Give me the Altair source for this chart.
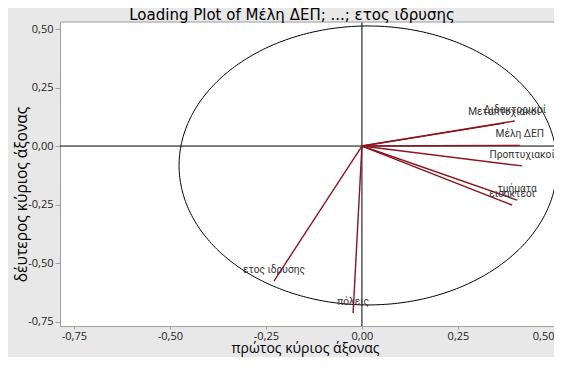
import altair as alt
import pandas as pd
import numpy as np

# Loadings
variables = ["Διδακτορικοί", "Μεταπτυχιακοί", "Μέλη ΔΕΠ", "Προπτυχιακοί",
             "τμήματα", "εισακτέοι", "ετος ιδρυσης", "πόλεις"]
pc1 = [0.398, 0.370, 0.411, 0.417, 0.404, 0.391, -0.229, -0.023]
pc2 = [0.107, 0.098, 0.003, -0.085, -0.231, -0.252, -0.577, -0.714]

tick_values = [-0.75, -0.5, -0.25, 0.0, 0.25, 0.5]
x_domain = [-0.786, 0.5]
y_domain = [-0.769, 0.53]
title_text = "Loading Plot of Μέλη ΔΕΠ; ...; ετος ιδρυσης"

# reference ellipse as drawn
ell_cx, ell_cy, ell_rx, ell_ry = 0.016, -0.083, 0.492, 0.596

W, H = 494, 304
FONT = "Open Sans"

load = pd.DataFrame({"var": variables, "x": pc1, "y": pc2, "x0": 0.0, "y0": 0.0})
t = np.linspace(0, 2 * np.pi, 361)
ell = pd.DataFrame({"x": ell_cx + ell_rx * np.cos(t), "y": ell_cy + ell_ry * np.sin(t), "o": np.arange(len(t))})

label_expr = "(datum.value < 0 ? '-' : '') + replace(format(abs(datum.value), '.2f'), '.', ',')"

xs = alt.Scale(domain=x_domain, nice=False, zero=False)
ys = alt.Scale(domain=y_domain, nice=False, zero=False)

xax = alt.Axis(values=tick_values, labelExpr=label_expr, grid=False, domainColor="#a0a0a0",
               tickColor="#a0a0a0", tickSize=3, labelPadding=1, labelFont=FONT, labelFontSize=11,
               labelColor="#222", labelOverlap=False, labelBound=False,
               title="πρώτος κύριος άξονας", titleFont=FONT, titleFontSize=14,
               titleFontWeight="normal", titleColor="black", titleY=26, titleX=W / 2 - 2,
               titleBaseline="alphabetic", titleAlign="center")
yax = alt.Axis(values=tick_values, labelExpr=label_expr, grid=False, domainColor="#a0a0a0",
               tickColor="#a0a0a0", tickSize=5, labelPadding=2, labelFont=FONT, labelFontSize=11,
               labelColor="#222", title="δέυτερος κύριος άξονας", titleFont=FONT, titleFontSize=15.5,
               titleFontWeight="normal", titleColor="black", titleX=-34, titleY=172,
               titleBaseline="alphabetic", titleAngle=-90, titleAlign="center")

base_x = alt.X("x:Q", scale=xs, axis=xax)
base_y = alt.Y("y:Q", scale=ys, axis=yax)

ellipse = alt.Chart(ell).mark_line(color="black", strokeWidth=1, clip=True).encode(
    x=base_x, y=base_y, order="o:Q")

hline = alt.Chart(pd.DataFrame({"x": [x_domain[0]], "x2": [x_domain[1]], "y": [0.0]})).mark_rule(
    color="black", strokeWidth=1).encode(x=alt.X("x:Q", scale=xs), x2="x2:Q", y=alt.Y("y:Q", scale=ys))
vline = alt.Chart(pd.DataFrame({"x": [0.0], "y": [y_domain[0]], "y2": [y_domain[1]]})).mark_rule(
    color="black", strokeWidth=1).encode(x=alt.X("x:Q", scale=xs), y=alt.Y("y:Q", scale=ys), y2="y2:Q")

vectors = alt.Chart(load).mark_rule(color="#8b1520", strokeWidth=1.4).encode(
    x=alt.X("x0:Q", scale=xs), y=alt.Y("y0:Q", scale=ys), x2="x:Q", y2="y:Q")

labels = alt.Chart(load).mark_text(font="Roboto", fontSize=10.2, color="#333", align="center",
                                   baseline="middle", dy=-11).encode(
    x=alt.X("x:Q", scale=xs), y=alt.Y("y:Q", scale=ys), text="var:N")

top_border = alt.Chart(pd.DataFrame({"a": [0]})).mark_rule(color="#a0a0a0", strokeWidth=1).encode(
    x=alt.value(0), x2=alt.value(W), y=alt.value(0))

title = alt.Chart(pd.DataFrame({"t": [title_text]})).mark_text(
    font="DejaVu Sans", fontSize=15, color="black", align="center", baseline="alphabetic").encode(
    x=alt.value(232), y=alt.value(-2), text="t:N")

chart = alt.layer(ellipse, hline, vline, vectors, labels, top_border, title).properties(
    width=W, height=H,
    autosize=alt.AutoSizeParams(type="none"),
    padding={"left": 52, "top": 14, "right": 0, "bottom": 31},
    background="#e8e8e8",
).configure_view(fill="white", stroke="transparent")

chart.save("out.html", embed_options={"renderer": "svg", "actions": False})
